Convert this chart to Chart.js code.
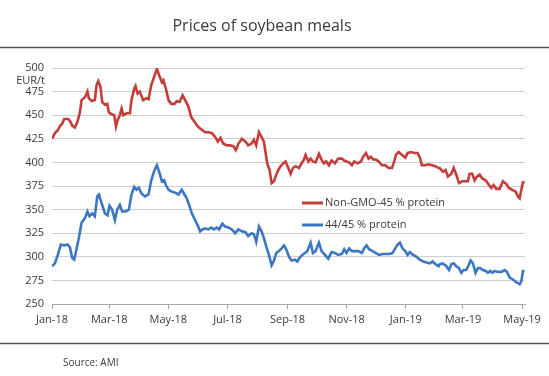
<!DOCTYPE html>
<html>
<head>
<meta charset="utf-8">
<script src="https://cdn.jsdelivr.net/npm/chart.js@4/dist/chart.umd.min.js"></script>
<style>
  html, body { margin: 0; padding: 0; background: #fff; }
</style>
</head>
<body>
<canvas id="soyChart" width="549" height="376"></canvas>
<script>
'use strict';

// Tage seit 1. Jan 2018 -> Monatsachse
const tickDays = [0, 59, 120, 181, 243, 304, 365, 424, 485];
const tickLabels = ['Jan-18', 'Mar-18', 'May-18', 'Jul-18', 'Sep-18', 'Nov-18', 'Jan-19', 'Mar-19', 'May-19'];

const seriesNames = ['Non-GMO-45 % protein', '44/45 % protein'];

// Non-GMO-45 % protein (EUR/t)
const redDays = [0, 3, 6, 8, 10.5, 12.6, 16.7, 19, 20.8, 23.6, 26.3, 28.8, 30.5, 34, 36.6, 38, 40.8, 44.2, 46, 47.7, 50, 51.8, 54.6, 57, 58.7, 61.6, 64.2, 66, 67.7, 70, 71.8, 73.6, 76.9, 80.4, 82, 84.8, 86.2, 88.3, 90.6, 94, 97.5,
  99.6, 102.4, 106.5, 108.2, 110.6, 113.4, 115, 117.5, 120.2, 123, 126.4, 128.8, 131.6, 134.7, 137.4, 140.8, 143.6, 147, 150.5, 152.9, 155.3, 158, 161.5, 165, 168.3, 171.1, 173.8, 176.6, 180.4, 183.8, 187.3, 189.7, 192.4, 195.9,
  199.7, 202.4, 205.9, 208.3, 210.7, 213.5, 216.2, 218.6, 220.4, 222.1, 224.5, 226.6, 229, 231.4, 233.5, 235.9, 238.3, 241, 243.8, 246.2, 248.6, 251.3, 254.8, 257.5, 259.9, 261.6, 264.4, 266.8, 269.2, 271.9, 275.4, 278.1, 280.5, 282.9, 285.7, 288.4, 291.9, 295.3,
  299.1, 301.5, 303.9, 306.6, 309.4, 311.8, 315.3, 318.7, 321.1, 323.9, 326.6, 329, 331.5, 334.2, 337, 340.4, 343.8, 347.3, 350.7, 353.1, 354.8, 357.6, 361, 364.5, 366.9, 370.3, 373.8, 377.2, 379.6, 381.6, 385.1, 388.5, 392, 395.4,
  398.9, 400, 403.4, 406.1, 408.5, 412, 414.4, 417.1, 419.9, 423.3, 426.7, 429.1, 430.8, 433.6, 436, 438.4, 441.2, 443.9, 447.4, 450.8, 453.2, 455.6, 458.4, 461.8, 465.3, 468.7, 471.5, 474.9, 478.3, 480.7, 482.5, 484.2, 485.9, 487.6];
const redValues = [425, 431, 434, 438, 441, 446, 446, 443, 439, 437, 443, 453, 466, 469, 475, 468, 465, 466, 482, 486, 480, 464, 461, 462, 453, 451, 450, 438, 445, 450, 457, 450, 452, 452, 466, 478, 481, 473, 475, 466, 468,
  467, 482, 494, 499, 492, 485, 487, 478, 466, 462, 462, 465, 464, 471, 466, 459, 448, 443, 438, 436, 434, 432, 432, 431, 427, 422, 426, 420, 418, 418, 417, 413, 420, 425,
  422, 418, 420, 424, 418, 432, 427, 422, 410, 399, 392, 378, 380, 387, 392, 396, 399, 401, 394, 388, 394, 396, 394, 399, 403, 408, 401, 404, 401, 400, 409, 403, 399, 401, 397, 402, 399, 404,
  404, 402, 401, 400, 397, 401, 399, 401, 406, 410, 404, 406, 403, 403, 401, 397, 397, 394, 394, 401, 408, 411, 408, 405, 410, 411, 410, 410, 405, 397, 397, 398, 397, 396,
  394, 394, 390, 392, 385, 388, 394, 387, 378, 380, 380, 380, 388, 388, 381, 385, 387, 383, 381, 376, 373, 376, 372, 372, 380, 377, 373, 371, 369, 364, 362, 371, 379, 379];

// 44/45 % protein (EUR/t)
const blueDays = [0, 3, 6, 9.2, 12.6, 16, 18.5, 20.8, 22.9, 25.3, 27.7, 30.5, 34, 36.6, 38.7, 41.5, 44.2, 46.7, 48.4, 51.1, 54.6, 57.3, 59.3, 62, 64.9, 67.3, 70, 72.4, 75.8, 79.3, 82, 84.8, 87.2, 89.6, 92.3, 95.8,
  99.6, 102.4, 105.8, 108.2, 110.6, 113.4, 115.7, 117.5, 120.2, 123.6, 127, 130.5, 133.9, 136.7, 139, 141.5, 144.2, 147.6, 150.4, 152.8, 155.2, 158, 161.4, 164.1, 166.9, 170, 172.4, 175.8, 178.6, 182, 185.5, 189, 192.4, 195.8,
  199.7, 202.4, 205.9, 208.3, 210.7, 213.5, 216.2, 218.6, 221, 223.8, 226.6, 229, 231.4, 234.1, 236.9, 239.3, 241.7, 244.5, 247.2, 250.6, 253, 255.5, 258.2, 261, 263.4, 266.8, 269.2, 271.9, 275.4, 278.1, 281.6, 285, 288.4, 291.9, 295.3,
  299.1, 301.5, 303.9, 306.6, 309.4, 312.8, 316.2, 319.6, 322.1, 324.5, 327.2, 330.7, 334.1, 337.5, 341, 344.4, 347.9, 351.3, 354.1, 356.5, 358.9, 361.6, 364.4, 366.8, 369.2, 372.6, 376.1, 379.5, 383, 386.4, 389.9, 392.6, 396,
  398.8, 400, 402.7, 406.1, 409.6, 412, 414.4, 417.1, 419.9, 422.3, 424.7, 427.4, 429.8, 431.9, 434.3, 437, 439.4, 441.8, 444.6, 447.4, 449.8, 452.2, 454.3, 456.7, 460.1, 463.6, 467, 469.4, 472.2, 475.6, 479, 482.5, 484.2, 485.9, 487.6];
const blueValues = [290, 293, 302, 313, 312, 313, 310, 299, 297, 308, 320, 336, 341, 348, 343, 346, 343, 364, 366, 357, 346, 344, 354, 350, 339, 350, 355, 348, 348, 350, 366, 374, 371, 373, 367, 364,
  366, 381, 392, 397, 390, 380, 381, 376, 371, 369, 368, 366, 371, 366, 362, 355, 346, 339, 333, 327, 329, 330, 329, 331, 329, 331, 329, 335, 332, 331, 329, 325, 329, 327,
  326, 322, 325, 324, 316, 332, 327, 320, 311, 302, 291, 296, 304, 306, 309, 312, 308, 300, 296, 297, 295, 299, 302, 304, 306, 315, 304, 306, 315, 306, 302, 298, 305, 304, 302,
  303, 308, 304, 309, 306, 306, 306, 304, 309, 312, 308, 306, 304, 302, 303, 303, 303, 304, 309, 313, 315, 309, 306, 302, 305, 302, 300, 297, 295, 294, 293, 295, 292,
  290, 292, 293, 291, 286, 292, 293, 290, 288, 283, 286, 286, 291, 296, 293, 283, 288, 288, 286, 285, 283, 285, 283, 285, 284, 284, 286, 284, 278, 276, 273, 271, 274, 285, 285];

const yTicks = [250, 275, 300, 325, 350, 375, 400, 425, 450, 475, 500];

const toPoints = (days, values) => days.map((d, i) => ({ x: d, y: values[i] }));

// Titel, Linien, Legende, Quelle
const decorations = {
  id: 'decorations',
  afterDraw(chart) {
    const { ctx } = chart;
    ctx.save();
    ctx.fillStyle = '#3a3a3a';
    ctx.textBaseline = 'middle';
    ctx.font = '16px "Open Sans"';
    ctx.textAlign = 'center';
    ctx.fillText('Prices of soybean meals', 262, 26);

    ctx.strokeStyle = '#555';
    ctx.lineWidth = 1.5;
    ctx.beginPath();
    ctx.moveTo(0, 47.5); ctx.lineTo(549, 47.5);
    ctx.moveTo(0, 343.5); ctx.lineTo(549, 343.5);
    ctx.stroke();

    ctx.font = '11px "Open Sans"';
    ctx.textAlign = 'right';
    ctx.fillText('EUR/t', 45, 81);

    ctx.textAlign = 'left';
    ctx.font = '10px "Open Sans"';
    ctx.fillText('Source: AMI', 63, 363);

    ctx.font = '11px "Open Sans"';
    chart.data.datasets.forEach((ds, i) => {
      const y = 203 + i * 22;
      ctx.strokeStyle = ds.borderColor;
      ctx.lineWidth = 3;
      ctx.beginPath();
      ctx.moveTo(302, y); ctx.lineTo(323, y);
      ctx.stroke();
      ctx.fillStyle = '#3a3a3a';
      ctx.fillText(ds.label, 325, y);
    });
    ctx.restore();
  },
};

const ctx = document.getElementById('soyChart').getContext('2d');
new Chart(ctx, {
  type: 'line',
  data: {
    datasets: [
      {
        label: seriesNames[0],
        data: toPoints(redDays, redValues),
        borderColor: '#c43d3a',
        borderWidth: 2.6,
        pointRadius: 0,
        tension: 0,
      },
      {
        label: seriesNames[1],
        data: toPoints(blueDays, blueValues),
        borderColor: '#3b77c3',
        borderWidth: 2.6,
        pointRadius: 0,
        tension: 0,
      },
    ],
  },
  options: {
    responsive: false,
    animation: false,
    layout: { padding: { top: 68, right: 24, left: 0, bottom: 0 } },
    plugins: {
      legend: { display: false },
      title: { display: false },
      tooltip: { enabled: false },
    },
    scales: {
      x: {
        type: 'linear',
        min: 0,
        max: 488,
        afterBuildTicks: scale => {
          scale.ticks = tickDays.map(v => ({ value: v }));
        },
        afterFit: scale => {
          scale.height = 72;
        },
        ticks: {
          autoSkip: false,
          maxRotation: 0,
          color: '#3a3a3a',
          font: { family: 'Open Sans', size: 11 },
          padding: 4,
          callback: value => tickLabels[tickDays.indexOf(value)],
        },
        grid: { drawOnChartArea: false, drawTicks: true, tickLength: 5, color: '#a6a6a6' },
        border: { display: true, color: '#a6a6a6', width: 1 },
      },
      y: {
        min: 250,
        max: 500,
        afterBuildTicks: scale => {
          scale.ticks = yTicks.map(v => ({ value: v }));
        },
        afterFit: scale => {
          scale.width = 52;
        },
        ticks: {
          color: '#3a3a3a',
          font: { family: 'Open Sans', size: 11 },
          padding: 8,
        },
        grid: { color: '#cfcfcf', drawTicks: false },
        border: { display: false },
      },
    },
  },
  plugins: [decorations],
});
</script>
</body>
</html>
